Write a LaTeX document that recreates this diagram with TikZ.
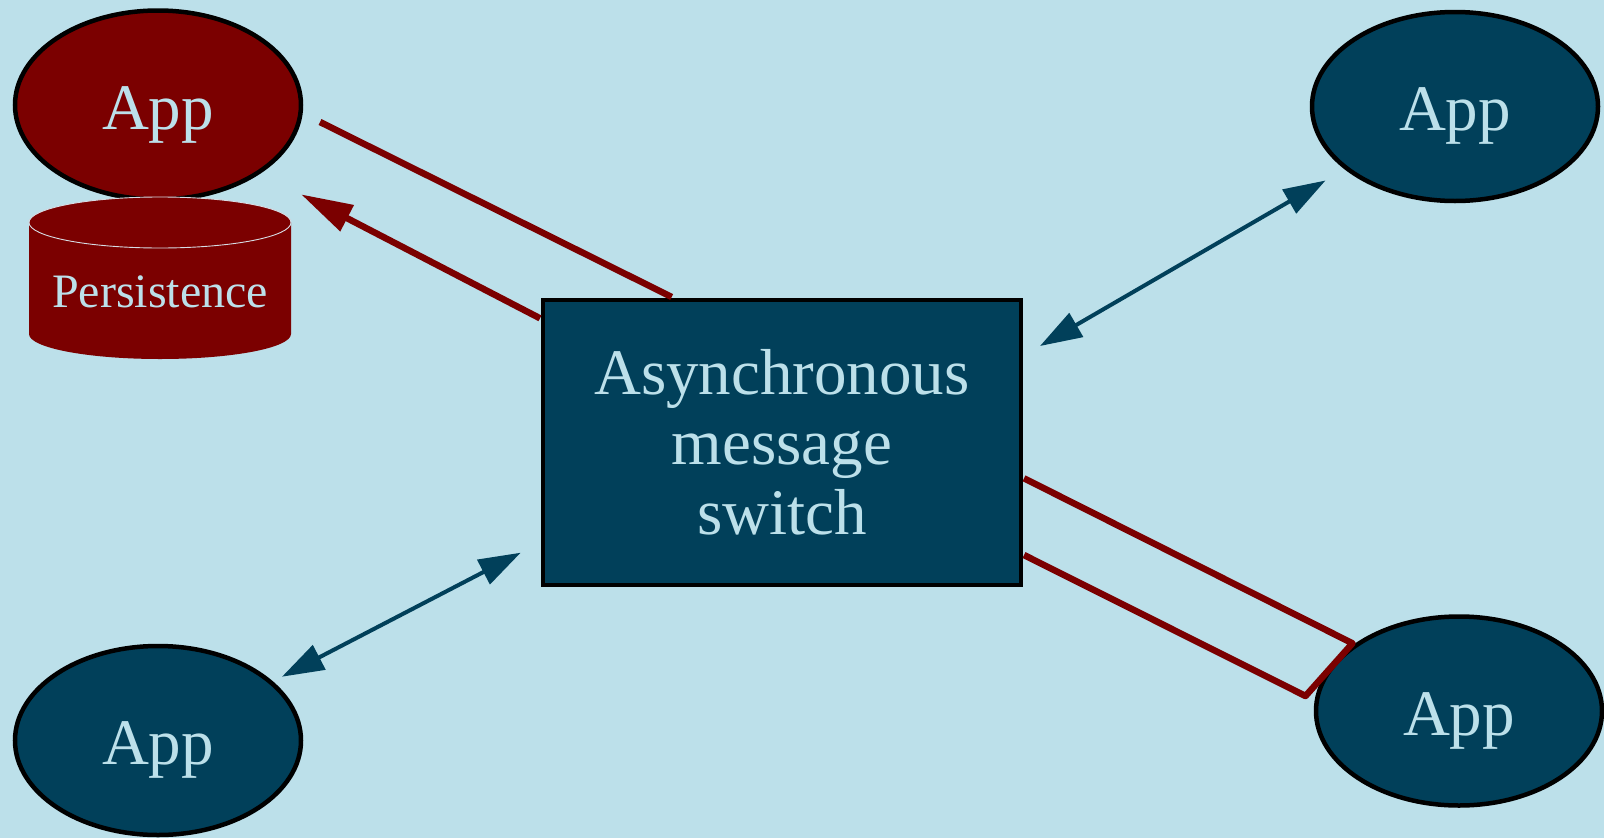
\documentclass[tikz,border=0pt]{standalone}
\usepackage{fontspec}
\setmainfont{Liberation Serif}
\usetikzlibrary{shapes.geometric,arrows.meta}

\definecolor{skyback}{RGB}{188,224,234}
\definecolor{navy}{RGB}{1,64,90}
\definecolor{maroon}{RGB}{123,0,0}
\definecolor{rimline}{RGB}{215,220,228}

\tikzset{
  app/.style={ellipse, draw=black, line width=4.5pt, inner sep=0pt,
    minimum width=286pt, minimum height=189pt, text=skyback,
    font=\fontsize{65}{70}\selectfont, text height=48pt, text depth=0pt},
  appblue/.style={app, fill=navy},
  appred/.style={app, fill=maroon},
  switchbox/.style={rectangle, draw=black, line width=4.5pt, fill=navy,
    text=skyback, inner sep=0pt, minimum width=478pt, minimum height=285pt,
    align=center, font=\fontsize{65}{70}\selectfont},
  storelabel/.style={text=skyback, font=\fontsize{48}{52}\selectfont, inner sep=0pt},
  flow/.style={draw=maroon, line width=6.5pt, line join=round},
  flowarrow/.style={flow, -{Triangle[length=52pt,width=28pt]}},
  link/.style={draw=navy, line width=4pt,
    {Triangle[length=42pt,width=27pt]}-{Triangle[length=42pt,width=27pt]}},
}

\begin{document}
\begin{tikzpicture}[x=1pt,y=-1pt]
  % canvas
  \useasboundingbox (0,0) rectangle (1604,838);
  \fill[skyback] (0,0) rectangle (1604,838);

  % applications and the switch
  \node[appred]  (appTL) at (158,105)    {App};
  \node[appblue] (appTR) at (1455,106.5) {App};
  \node[appblue] (appBL) at (158,740.5)  {App};
  \node[appblue] (appBR) at (1459,711)   {App};
  \node[switchbox] (switch) at (781.9,442.7) {Asynchronous\\message\\switch};

  % persistence store under the red application
  \fill[maroon] (29,222.5) -- (29,334)
    arc[start angle=180, end angle=0, x radius=131, y radius=25] -- (291,222.5) -- cycle;
  \filldraw[fill=maroon, draw=rimline, line width=0.9pt]
    (160,222.5) ellipse [x radius=131, y radius=25.5];
  \node[storelabel, anchor=base] (store) at (160,307) {Persistence};

  % connector end points
  \coordinate (tlOut)   at (320,122);
  \coordinate (swTop)   at (671.7,297);
  \coordinate (swLeft)  at (540,318.3);
  \coordinate (tlIn)    at (301,194.3);
  \coordinate (swRt1)   at (1024,478.3);
  \coordinate (brUpper) at (1352.5,643.3);
  \coordinate (brLower) at (1305.5,696);
  \coordinate (swRt2)   at (1024,555);
  \coordinate (swNE)    at (1040,346);
  \coordinate (trIn)    at (1325.5,180.5);
  \coordinate (blIn)    at (282,676.7);
  \coordinate (swSW)    at (520.7,552.7);

  % persistent message flow
  \draw[flow] (tlOut) -- (swTop);
  \draw[flowarrow] (swLeft) -- (tlIn);
  \draw[flow] (swRt1) -- (brUpper) -- (brLower) -- (swRt2);

  % plain links
  \draw[link] (swNE) -- (trIn);
  \draw[link] (blIn) -- (swSW);
\end{tikzpicture}
\end{document}
